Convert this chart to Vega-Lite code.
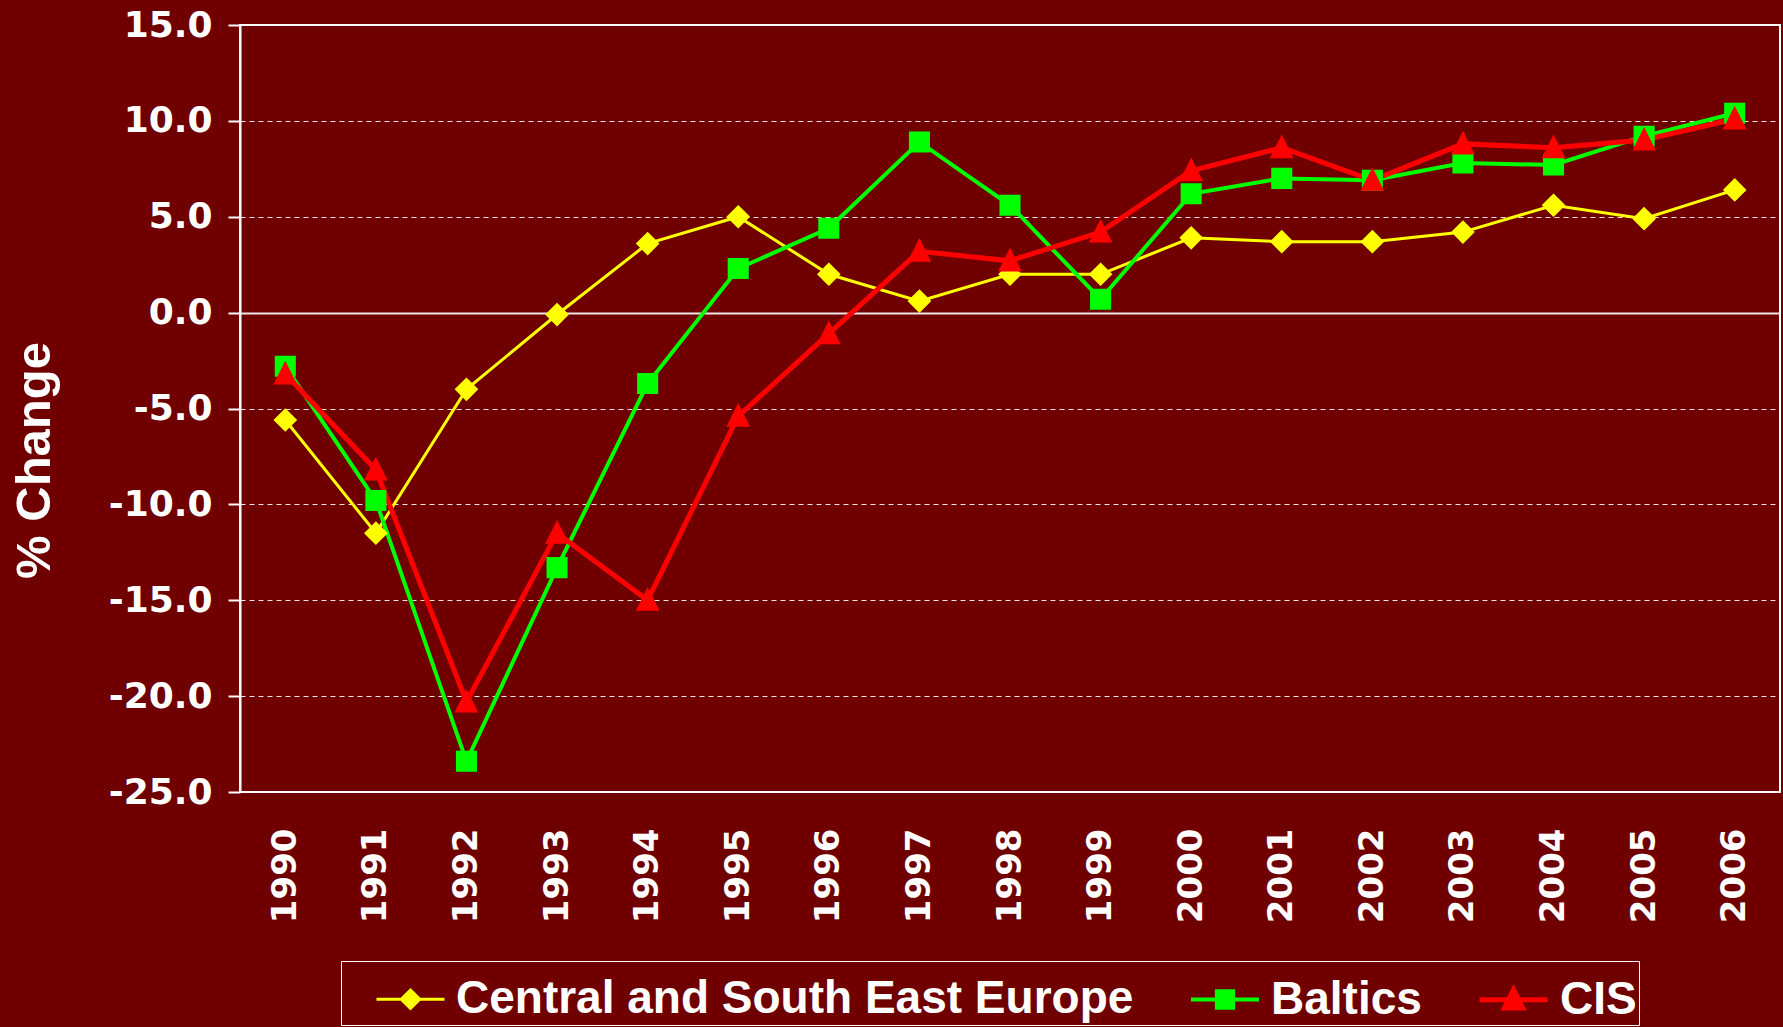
{
  "$schema": "https://vega.github.io/schema/vega-lite/v6.json",
  "autosize": {"type": "none"},
  "width": 1540,
  "height": 767,
  "padding": {"left": 240, "top": 25, "right": 3, "bottom": 235},
  "background": "#700000",
  "config": {
    "view": {"stroke": "white", "strokeWidth": 2},
    "axis": {"labelColor": "white", "titleColor": "white", "domainColor": "white", "tickColor": "white"},
    "legend": {
      "title": null, "orient": "none", "direction": "horizontal",
      "legendX": 101, "legendY": 936,
      "strokeColor": "white", "fillColor": "#700000",
      "padding": 2, "columnPadding": 23, "labelOffset": 10, "symbolOffset": 32,
      "labelFont": "Liberation Sans", "labelFontWeight": "bold", "labelFontSize": 46, "labelColor": "white",
      "symbolSize": 4624, "labelLimit": 1000
    }
  },
  "data": {
    "values": [
      {"year": "1990", "series": "Central and South East Europe", "value": -5.6},
      {"year": "1991", "series": "Central and South East Europe", "value": -11.5},
      {"year": "1992", "series": "Central and South East Europe", "value": -4.0},
      {"year": "1993", "series": "Central and South East Europe", "value": -0.1},
      {"year": "1994", "series": "Central and South East Europe", "value": 3.6},
      {"year": "1995", "series": "Central and South East Europe", "value": 5.0},
      {"year": "1996", "series": "Central and South East Europe", "value": 2.0},
      {"year": "1997", "series": "Central and South East Europe", "value": 0.6},
      {"year": "1998", "series": "Central and South East Europe", "value": 2.0},
      {"year": "1999", "series": "Central and South East Europe", "value": 2.0},
      {"year": "2000", "series": "Central and South East Europe", "value": 3.9},
      {"year": "2001", "series": "Central and South East Europe", "value": 3.7},
      {"year": "2002", "series": "Central and South East Europe", "value": 3.7},
      {"year": "2003", "series": "Central and South East Europe", "value": 4.2},
      {"year": "2004", "series": "Central and South East Europe", "value": 5.6},
      {"year": "2005", "series": "Central and South East Europe", "value": 4.9},
      {"year": "2006", "series": "Central and South East Europe", "value": 6.4},
      {"year": "1990", "series": "Baltics", "value": -2.8},
      {"year": "1991", "series": "Baltics", "value": -9.8},
      {"year": "1992", "series": "Baltics", "value": -23.4},
      {"year": "1993", "series": "Baltics", "value": -13.3},
      {"year": "1994", "series": "Baltics", "value": -3.7},
      {"year": "1995", "series": "Baltics", "value": 2.3},
      {"year": "1996", "series": "Baltics", "value": 4.4},
      {"year": "1997", "series": "Baltics", "value": 8.9},
      {"year": "1998", "series": "Baltics", "value": 5.6},
      {"year": "1999", "series": "Baltics", "value": 0.7},
      {"year": "2000", "series": "Baltics", "value": 6.2},
      {"year": "2001", "series": "Baltics", "value": 7.0},
      {"year": "2002", "series": "Baltics", "value": 6.9},
      {"year": "2003", "series": "Baltics", "value": 7.8},
      {"year": "2004", "series": "Baltics", "value": 7.7},
      {"year": "2005", "series": "Baltics", "value": 9.2},
      {"year": "2006", "series": "Baltics", "value": 10.4},
      {"year": "1990", "series": "CIS", "value": -3.2},
      {"year": "1991", "series": "CIS", "value": -8.2},
      {"year": "1992", "series": "CIS", "value": -20.3},
      {"year": "1993", "series": "CIS", "value": -11.5},
      {"year": "1994", "series": "CIS", "value": -15.0},
      {"year": "1995", "series": "CIS", "value": -5.4},
      {"year": "1996", "series": "CIS", "value": -1.1},
      {"year": "1997", "series": "CIS", "value": 3.2},
      {"year": "1998", "series": "CIS", "value": 2.7},
      {"year": "1999", "series": "CIS", "value": 4.2},
      {"year": "2000", "series": "CIS", "value": 7.4},
      {"year": "2001", "series": "CIS", "value": 8.6},
      {"year": "2002", "series": "CIS", "value": 6.9},
      {"year": "2003", "series": "CIS", "value": 8.8},
      {"year": "2004", "series": "CIS", "value": 8.6},
      {"year": "2005", "series": "CIS", "value": 9.0},
      {"year": "2006", "series": "CIS", "value": 10.1}
    ]
  },
  "encoding": {
    "x": {
      "field": "year", "type": "ordinal",
      "scale": {"type": "point", "padding": 0.5},
      "axis": {
        "title": null, "labelAngle": -90, "ticks": false, "domain": false,
        "labelFont": "DejaVu Sans", "labelFontWeight": "bold", "labelFontSize": 34,
        "labelPadding": 36, "labelColor": "white"
      }
    },
    "y": {
      "field": "value", "type": "quantitative",
      "scale": {"domain": [-25, 15], "nice": false},
      "axis": {
        "values": [-25, -20, -15, -10, -5, 0, 5, 10, 15],
        "format": ".1f",
        "labelExpr": "replace(datum.label, '\u2212', '-')",
        "title": "% Change",
        "titleFont": "Liberation Sans", "titleFontWeight": "bold", "titleFontSize": 49,
        "titleAngle": -90, "titleX": -206, "titleY": 435, "titleAlign": "center", "titleBaseline": "middle",
        "labelFont": "DejaVu Sans", "labelFontWeight": "bold", "labelFontSize": 36,
        "labelPadding": 16, "tickSize": 12, "tickWidth": 2, "domainWidth": 2,
        "grid": true, "gridColor": "white",
        "gridDash": {"condition": {"test": "datum.value === 0", "value": []}, "value": [5, 4]},
        "gridWidth": {"condition": {"test": "datum.value === 0", "value": 2}, "value": 1},
        "gridOpacity": 0.9
      }
    }
  },
  "layer": [
    {
      "mark": {"type": "line"},
      "encoding": {
        "color": {
          "field": "series", "type": "nominal",
          "scale": {"domain": ["Central and South East Europe", "Baltics", "CIS"], "range": ["#FFFF00", "#00FF00", "#FF0000"]},
          "legend": {
            "encode": {"symbols": {"update": {"stroke": {"scale": "color", "field": "value"}, "strokeWidth": {"value": 4}, "opacity": {"value": 1}}}}
          }
        },
        "strokeWidth": {
          "field": "series", "type": "nominal",
          "scale": {"domain": ["Central and South East Europe", "Baltics", "CIS"], "range": [3, 5, 5]},
          "legend": null
        }
      }
    },
    {
      "mark": {"type": "point", "filled": true, "opacity": 1, "strokeWidth": 0, "size": 7700},
      "encoding": {
        "color": {
          "field": "series", "type": "nominal",
          "scale": {"domain": ["Central and South East Europe", "Baltics", "CIS"], "range": ["#FFFF00", "#00FF00", "#FF0000"]},
          "legend": {
            "encode": {"symbols": {"update": {"stroke": {"scale": "color", "field": "value"}, "strokeWidth": {"value": 4}, "opacity": {"value": 1}}}}
          }
        },
        "shape": {
          "field": "series", "type": "nominal",
          "scale": {
            "domain": ["Central and South East Europe", "Baltics", "CIS"],
            "range": [
              "M-1,0H1M0,-0.27L0.27,0L0,0.27L-0.27,0Z",
              "M-1,0H1M-0.24,-0.24H0.24V0.24H-0.24Z",
              "M-1,0H1M0,-0.3L0.27,0.24L-0.27,0.24Z"
            ]
          },
          "legend": {
            "encode": {"symbols": {"update": {"stroke": {"scale": "color", "field": "value"}, "strokeWidth": {"value": 4}, "opacity": {"value": 1}}}}
          }
        }
      }
    }
  ]
}
